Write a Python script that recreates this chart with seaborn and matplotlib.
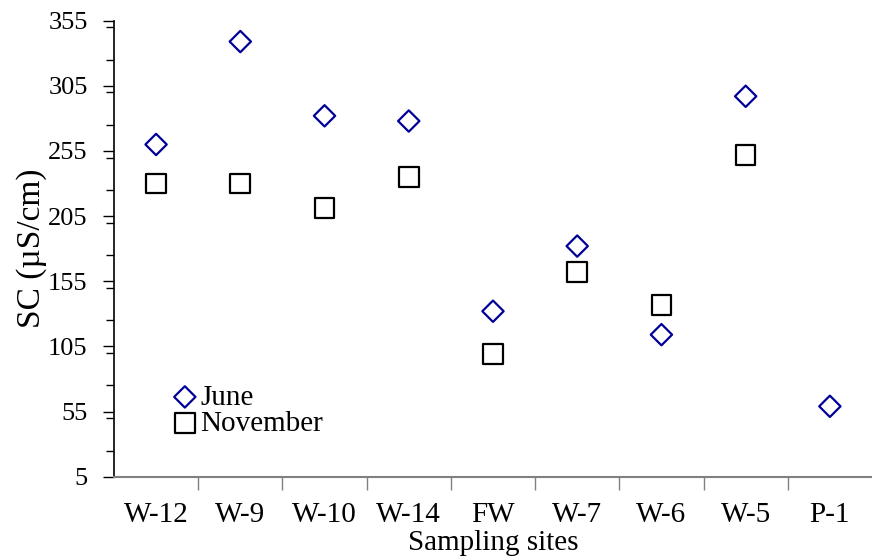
import matplotlib
matplotlib.use("Agg")
import matplotlib.pyplot as plt
from matplotlib.ticker import FixedLocator, MultipleLocator
import seaborn as sns
import pandas as pd
import numpy as np

sites = ["W-12", "W-9", "W-10", "W-14", "FW", "W-7", "W-6", "W-5", "P-1"]
june = [260, 339, 282, 278, 132, 182, 114, 297, 59]
november = [230, 230, 211, 235, 99, 162, 137, 252, np.nan]
y_ticks = [5, 55, 105, 155, 205, 255, 305, 355]

df = pd.DataFrame({
    "pos": np.arange(len(sites)),
    "site": sites,
    "June": june,
    "November": november,
})

sns.set_style("white")
plt.rcParams["font.family"] = ["Liberation Serif", "DejaVu Serif"]
plt.rcParams["text.color"] = "black"
plt.rcParams["axes.labelcolor"] = "black"

fig = plt.figure(figsize=(8.72, 5.6), dpi=100)
ax = fig.add_axes([0.1307, 0.1488, 0.8693, 0.8142])

sns.scatterplot(data=df, x="pos", y="June", ax=ax, marker="D", s=118,
                facecolor="none", edgecolor="#000099", linewidth=1.6,
                label="June", zorder=3)
sns.scatterplot(data=df.dropna(), x="pos", y="November", ax=ax, marker="s",
                s=200, facecolor="none", edgecolor="black", linewidth=1.6,
                label="November", zorder=3)

ax.set_xlim(-0.5, len(sites) - 0.5)
ax.set_ylim(5, 355)

# y axis: labelled majors every 50, minors halfway between
ax.yaxis.set_major_locator(FixedLocator(y_ticks))
ax.yaxis.set_minor_locator(MultipleLocator(25))
ax.set_yticklabels([str(v) for v in y_ticks])
ax.tick_params(axis="y", which="major", direction="out", length=8, width=1,
               color="black", labelcolor="black", labelsize=19, pad=11,
               left=True)
ax.tick_params(axis="y", which="minor", direction="out", length=6, width=1,
               color="black", left=True)

# x axis: site names centred, tick marks on the category boundaries
ax.set_xticks(df["pos"])
ax.set_xticklabels(sites)
ax.xaxis.set_minor_locator(FixedLocator(np.arange(0.5, len(sites) - 0.5, 1)))
ax.tick_params(axis="x", which="major", length=0, labelsize=21, pad=18,
               labelcolor="black")
ax.tick_params(axis="x", which="minor", direction="out", length=9, width=1,
               color="#808080", bottom=True)

for side in ["top", "right"]:
    ax.spines[side].set_visible(False)
ax.spines["left"].set_color("black")
ax.spines["left"].set_linewidth(1.2)
ax.spines["bottom"].set_color("#808080")
ax.spines["bottom"].set_linewidth(1.5)

ax.set_xlabel("Sampling sites", fontsize=21, labelpad=2)
ax.set_ylabel("SC (µS/cm)", fontsize=24, labelpad=1)

ax.legend(loc="center left", bbox_to_anchor=(0.055, 0.145), frameon=False,
          fontsize=21, handletextpad=0.02, labelspacing=0.0, borderpad=0,
          handlelength=1.0)

fig.savefig("out.png", dpi=100)
